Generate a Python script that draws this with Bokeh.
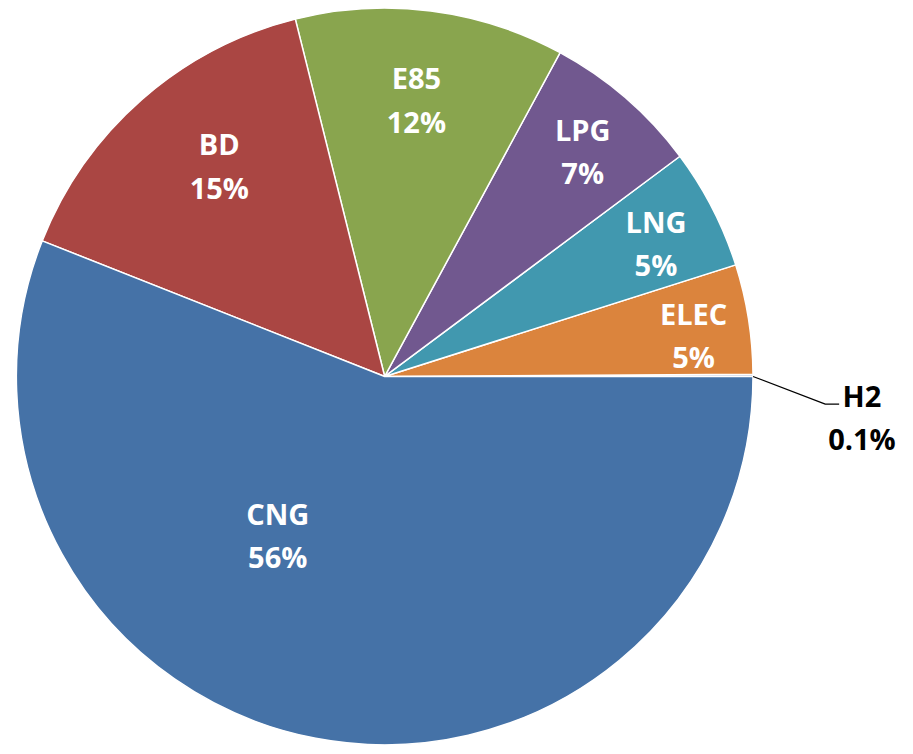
import numpy as np
from bokeh.plotting import figure
from bokeh.models import Range1d, ColumnDataSource
from bokeh.core.properties import value
from bokeh.embed import file_html
from bokeh.resources import INLINE

# ---- data ----
categories = ["H2", "ELEC", "LNG", "LPG", "E85", "BD", "CNG"]
shares = [0.1, 4.8, 5.3, 6.9, 11.8, 15.1, 56.0]
pct_labels = ["0.1%", "5%", "5%", "7%", "12%", "15%", "56%"]

# ---- styles / layout ----
colors = ["#93A9CF", "#DB843D", "#4198AF", "#71588F", "#89A54E", "#AA4643", "#4572A7"]
text_colors = ["#000000", "white", "white", "white", "white", "white", "white"]
# label centres in reference-image pixels
label_px = [(870, 421), (700, 338), (662, 245), (588, 152), (420, 100), (221, 167), (280, 540)]

REF_W, REF_H = 913, 754
W, H = 904, 746


def to_data(px, py):
    return px, REF_H - py


cx, cy = to_data(388, 380)
R = 372

p = figure(width=W, height=H, output_backend="svg", toolbar_location=None,
           x_range=Range1d(0, REF_W), y_range=Range1d(0, REF_H), min_border=0)
p.axis.visible = False
p.grid.visible = False
p.outline_line_color = None
p.background_fill_color = "white"
p.border_fill_color = "white"

vals = np.array(shares, dtype=float)
frac = vals / vals.sum()
ends = np.cumsum(frac) * 2 * np.pi
starts = np.concatenate([[0.0], ends[:-1]])

src = ColumnDataSource(dict(start=starts, end=ends, color=colors, cat=categories))
p.wedge(x=cx, y=cy, radius=R, start_angle="start", end_angle="end",
        direction="anticlock", fill_color="color", line_color="white",
        line_width=1.5, source=src)

# leader line for H2
pts = [to_data(760, 380), to_data(833, 408), to_data(847, 408)]
p.line([q[0] for q in pts], [q[1] for q in pts], line_color="black", line_width=1.2)

tx, ty1, ty2 = [], [], []
for (px, py) in label_px:
    x, y = to_data(px, py)
    tx.append(x)
    ty1.append(y + 22)
    ty2.append(y - 22)

lsrc = ColumnDataSource(dict(x=tx, y1=ty1, y2=ty2, cat=categories, pct=pct_labels, tc=text_colors))
common = dict(text_font=value("Open Sans"), text_font_style="bold", text_font_size="29px",
              text_align="center", text_baseline="middle", text_color="tc", source=lsrc)
p.text(x="x", y="y1", text="cat", **common)
p.text(x="x", y="y2", text="pct", **common)

open("out.html", "w").write(file_html(p, INLINE))
